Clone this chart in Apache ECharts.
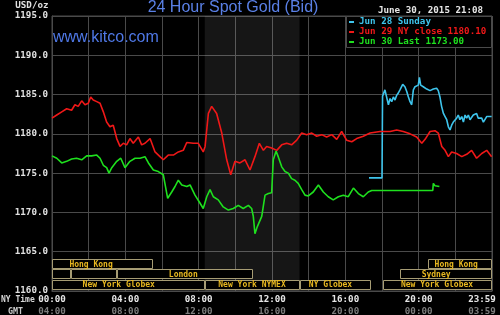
<!DOCTYPE html>
<html><head><meta charset="utf-8">
<script src="https://cdn.jsdelivr.net/npm/echarts@6/dist/echarts.min.js"></script>
<style>html,body{margin:0;padding:0;background:#000}#c{width:500px;height:315px}</style>
</head><body><div id="c"></div>
<script>
// ---- data ----
const seriesNames = ['Jun 28 Sunday', 'Jun 29 NY close 1180.10', 'Jun 30 Last 1173.00'];
const tickHours = [0, 4, 8, 12, 16, 20, 24];
const nyTickLabels = ['00:00', '04:00', '08:00', '12:00', '16:00', '20:00', '23:59'];
const gmtTickLabels = ['04:00', '08:00', '12:00', '16:00', '20:00', '00:00', '03:59'];

const cyanHours = [17.29,18.00,18.03,18.16,18.25,18.35,18.44,18.53,18.62,18.71,
18.80,18.89,18.98,19.13,19.25,19.35,19.44,19.53,19.62,19.71,
19.80,19.89,19.98,20.04,20.11,20.25,20.44,20.62,20.80,20.98,
21.07,21.16,21.25,21.35,21.44,21.53,21.62,21.71,21.80,21.89,
22.07,22.16,22.25,22.35,22.44,22.53,22.62,22.71,22.80,22.98,
23.16,23.25,23.44,23.53,23.71,23.98];
const cyanValues = [1174.4,1174.4,1184.8,1185.6,1185.7,1183.7,1184.5,1184.1,1184.7,1184.3,
1184.9,1185.2,1185.6,1186.3,1186.0,1185.4,1184.7,1184.1,1183.7,1185.6,
1186.0,1185.8,1186.2,1187.2,1186.2,1186.0,1185.7,1185.5,1185.7,1185.8,
1185.5,1184.7,1183.5,1182.6,1182.2,1181.8,1180.9,1180.5,1181.1,1181.5,
1182.0,1182.4,1181.8,1182.2,1181.5,1182.4,1182.0,1182.4,1181.8,1182.4,
1182.6,1182.0,1182.0,1181.5,1182.2,1182.2];

const redHours = [0.00,0.26,0.53,0.80,1.07,1.25,1.43,1.62,1.80,1.98,
2.11,2.25,2.44,2.62,2.80,2.98,3.16,3.34,3.53,3.71,
3.89,4.07,4.25,4.43,4.71,4.89,5.07,5.35,5.62,5.89,
6.07,6.34,6.62,6.89,7.16,7.35,7.71,7.98,8.25,8.35,
8.53,8.71,8.98,9.26,9.53,9.75,9.98,10.25,10.53,10.80,
11.07,11.31,11.53,11.71,11.98,12.26,12.53,12.80,13.07,13.35,
13.62,13.89,14.17,14.44,14.71,14.98,15.26,15.53,15.80,16.07,
16.35,16.62,16.98,17.35,17.89,18.44,18.80,19.16,19.53,19.89,
20.17,20.35,20.62,20.89,21.07,21.26,21.44,21.62,21.80,22.07,
22.35,22.62,22.89,23.16,23.44,23.71,23.98];
const redValues = [1182.0,1182.4,1182.8,1183.2,1183.0,1183.7,1183.5,1184.2,1183.7,1183.9,
1184.7,1184.3,1184.1,1183.9,1182.8,1181.5,1180.9,1181.1,1179.4,1178.4,
1178.8,1178.6,1179.4,1178.8,1179.6,1178.6,1178.8,1179.4,1177.7,1177.1,
1176.7,1177.3,1177.3,1177.7,1177.9,1178.9,1178.8,1178.8,1177.7,1178.4,
1182.6,1183.5,1182.6,1180.1,1176.7,1174.8,1176.5,1176.3,1176.7,1175.4,
1177.1,1178.8,1177.9,1178.4,1178.2,1177.9,1178.6,1178.8,1178.6,1179.2,
1180.1,1179.9,1180.1,1179.7,1179.9,1179.6,1179.9,1179.3,1180.3,1179.2,
1179.0,1179.4,1179.7,1180.1,1180.3,1180.3,1180.5,1180.3,1180.0,1179.6,
1178.8,1179.3,1180.3,1180.4,1180.1,1178.4,1177.9,1177.1,1177.7,1177.5,
1177.1,1177.4,1177.9,1176.9,1177.5,1177.9,1177.1];

const greenHours = [0.00,0.26,0.53,0.80,1.07,1.34,1.62,1.89,2.16,2.44,
2.62,2.80,2.98,3.11,3.26,3.53,3.75,3.98,4.25,4.53,
4.80,5.07,5.26,5.53,5.80,6.07,6.31,6.53,6.71,6.89,
7.08,7.35,7.53,7.80,8.07,8.25,8.44,8.62,8.80,9.07,
9.34,9.62,9.89,10.16,10.43,10.71,10.89,10.98,11.07,11.20,
11.44,11.62,11.80,11.98,12.07,12.22,12.34,12.53,12.71,12.89,
13.07,13.25,13.43,13.62,13.80,13.98,14.25,14.53,14.80,15.07,
15.34,15.62,15.89,16.16,16.44,16.71,16.98,17.25,17.44,20.77,
20.80,20.89,20.98,21.13];
const greenValues = [1177.2,1176.9,1176.3,1176.5,1176.8,1176.9,1176.7,1177.2,1177.2,1177.3,
1176.9,1176.0,1175.7,1175.0,1175.7,1176.5,1176.9,1175.7,1176.5,1176.9,
1176.9,1177.1,1176.3,1175.4,1175.2,1174.8,1171.8,1172.6,1173.3,1174.1,
1173.5,1173.3,1173.5,1172.2,1171.2,1170.5,1172.0,1172.9,1172.0,1171.6,
1170.7,1170.3,1170.5,1170.9,1170.5,1170.9,1170.5,1169.5,1167.3,1168.2,
1169.5,1172.2,1172.4,1172.5,1176.7,1177.8,1177.1,1175.8,1175.2,1175.0,
1174.3,1174.1,1173.7,1172.9,1172.2,1172.1,1172.6,1173.5,1172.6,1172.0,
1171.6,1172.0,1172.2,1172.0,1173.1,1172.4,1172.0,1172.6,1172.8,1172.8,
1173.7,1173.4,1173.6,1173.3];

// market sessions (hours, NY time)
const sessionNames   = ['Hong Kong','Hong Kong','','','London','Sydney','New York Globex','New York NYMEX','NY Globex','New York Globex'];
const sessionRow     = [0, 0, 1, 1, 1, 1, 2, 2, 2, 2];
const sessionStart   = [0, 20.5, 0, 1.02, 3.53, 19.0, 0, 8.33, 13.55, 18.07];
const sessionEnd     = [5.5, 24, 1.02, 3.53, 10.98, 24, 8.33, 13.55, 17.4, 24];
const sessionLabelAt = [2.13, 22.05, 0.5, 2.3, 7.16, 20.95, 3.64, 10.91, 15.19, 21.0];
const nymexShade = [8.333, 13.5];

// ---- chart ----
const zip = (a, b) => a.map((v, i) => [v, b[i]]);
const colors = ['#3ec4ec', '#f01818', '#1ee01e'];
const grid = '#4a4a4a';
const mono = "'DejaVu Sans Mono', 'Liberation Mono', monospace";

const chart = echarts.init(document.getElementById('c'), null, {renderer: 'canvas'});
const lineSeries = (i, h, v, extra) => Object.assign({
  name: seriesNames[i], type: 'line', xAxisIndex: 0, yAxisIndex: 0,
  data: zip(h, v), showSymbol: false, symbol: 'none',
  lineStyle: {color: colors[i], width: 1.6}, itemStyle: {color: colors[i]},
  z: 3
}, extra || {});

chart.setOption({
  backgroundColor: '#000',
  animation: false,
  grid: [
    {left: 52, right: 8, top: 16, bottom: 24, show: true, borderColor: grid, borderWidth: 1, outerBoundsMode: 'none', containLabel: false},
    {left: 52, right: 8, top: 259, height: 31, outerBoundsMode: 'none', containLabel: false}
  ],
  xAxis: [
    {type: 'value', gridIndex: 0, min: 0, max: 24, interval: 2,
     axisLine: {show: true, lineStyle: {color: grid}}, axisTick: {show: false},
     splitLine: {show: true, lineStyle: {color: grid, width: 1}},
     axisLabel: {margin: 2, showMinLabel: true, showMaxLabel: true, hideOverlap: false,
       formatter: function (v) {
         const k = tickHours.indexOf(v);
         if (k < 0) return '';
         const s = (k === tickHours.length - 1) ? 'e' : '';
         return '{a' + s + '|' + nyTickLabels[k] + '}\n{b' + s + '|' + gmtTickLabels[k] + '}';
       },
       rich: {
         a: {color: '#e6e6e6', fontFamily: mono, fontWeight: 'bold', fontSize: 9.2, lineHeight: 12.5},
         b: {color: '#7c7c7c', fontFamily: mono, fontWeight: 'bold', fontSize: 9.2, lineHeight: 12.5},
         ae: {color: '#e6e6e6', fontFamily: mono, fontWeight: 'bold', fontSize: 9.2, lineHeight: 12.5, padding: [0, 20, 0, 0]},
         be: {color: '#7c7c7c', fontFamily: mono, fontWeight: 'bold', fontSize: 9.2, lineHeight: 12.5, padding: [0, 20, 0, 0]}
       }}},
    {type: 'value', gridIndex: 1, min: 0, max: 24, show: false}
  ],
  yAxis: [
    {type: 'value', gridIndex: 0, min: 1160, max: 1195, interval: 5,
     axisLine: {show: true, lineStyle: {color: grid}}, axisTick: {show: false},
     splitLine: {show: true, lineStyle: {color: grid, width: 1}},
     axisLabel: {margin: 4, color: '#e0e0e0', fontFamily: mono, fontWeight: 'bold', fontSize: 9.2,
       formatter: v => v.toFixed(1)}},
    {type: 'category', gridIndex: 1, data: [0, 1, 2], inverse: true, show: false}
  ],
  legend: {
    orient: 'vertical', left: 346, top: 16, padding: [1, 3, 1, 3], itemGap: 0,
    itemWidth: 5, itemHeight: 2, icon: 'rect', selectedMode: false, z: 10,
    textStyle: {fontFamily: mono, fontWeight: 'bold', fontSize: 9.2, lineHeight: 10},
    data: seriesNames.map((n, i) => ({name: n, textStyle: {color: colors[i]}}))
  },
  graphic: [
    {type: 'rect', z: 9, shape: {x: 346.5, y: 16.5, width: 145, height: 31}, style: {fill: '#000', stroke: grid, lineWidth: 1}},
    {type: 'text', z: 9, style: {text: '24 Hour Spot Gold (Bid)', x: 233, y: 8, align: 'center', verticalAlign: 'middle', font: "16px 'Liberation Sans', Arial, sans-serif", fill: '#5a80e6'}},
    {type: 'text', z: 9, style: {text: 'www.kitco.com', x: 53, y: 38, align: 'left', verticalAlign: 'middle', font: "16px 'Liberation Sans', Arial, sans-serif", fill: '#4f78e6'}},
    {type: 'text', z: 9, style: {text: 'USD/oz', x: 48.5, y: 5.5, align: 'right', verticalAlign: 'middle', font: "bold 9.2px " + mono, fill: '#e0e0e0'}},
    {type: 'text', z: 9, style: {text: 'June 30, 2015 21:08', x: 378, y: 10.5, align: 'left', verticalAlign: 'middle', font: "bold 9.2px " + mono, fill: '#e6e6e6'}},
    {type: 'text', z: 9, style: {text: 'NY Time', x: 1, y: 299.5, align: 'left', verticalAlign: 'middle', font: "bold 8px " + mono, fill: '#d8d8d8'}},
    {type: 'text', z: 9, style: {text: 'GMT', x: 8, y: 311.5, align: 'left', verticalAlign: 'middle', font: "bold 8.4px " + mono, fill: '#c8c8c8'}}
  ],
  series: [
    lineSeries(0, cyanHours, cyanValues),
    lineSeries(1, redHours, redValues, {
      markArea: {silent: true, itemStyle: {color: 'rgba(255,255,255,0.085)'},
        data: [[{xAxis: nymexShade[0]}, {xAxis: nymexShade[1]}]]}
    }),
    lineSeries(2, greenHours, greenValues),
    {
      type: 'custom', xAxisIndex: 1, yAxisIndex: 1, z: 4, silent: true,
      data: sessionRow.map((r, i) => [r, sessionStart[i], sessionEnd[i], sessionLabelAt[i]]),
      encode: {x: [1, 2], y: 0},
      renderItem: function (params, api) {
        const i = params.dataIndex;
        const row = api.value(0);
        const p0 = api.coord([api.value(1), row]);
        const p1 = api.coord([api.value(2), row]);
        const pl = api.coord([api.value(3), row]);
        const h = api.size([0, 1])[1];
        const x0 = Math.round(p0[0]) + 0.5, x1 = Math.round(p1[0]) - 0.5;
        const y0 = Math.round(p0[1] - h / 2) + 0.5;
        return {type: 'group', children: [
          {type: 'rect', shape: {x: x0, y: y0, width: x1 - x0, height: Math.round(h) - 1},
           style: {fill: '#000', stroke: '#a69c74', lineWidth: 1}},
          {type: 'text', style: {text: sessionNames[i], x: pl[0], y: p0[1] + 0.5, align: 'center', verticalAlign: 'middle',
            font: 'bold 8px ' + mono, fill: '#e8b820'}}
        ]};
      }
    }
  ]
});
</script>
</body></html>
